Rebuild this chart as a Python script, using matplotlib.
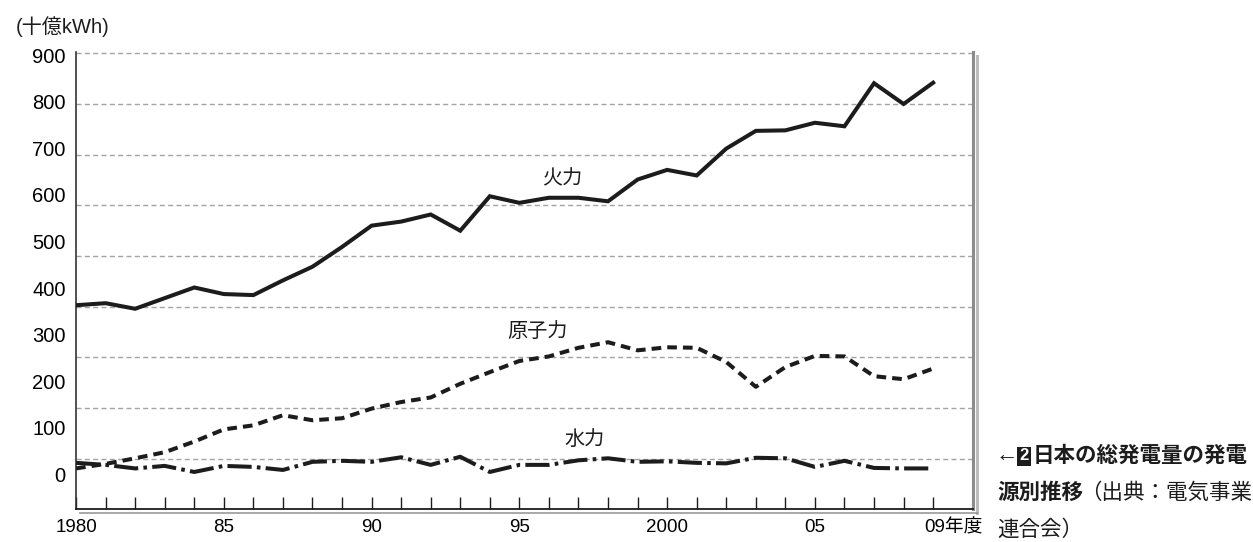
import matplotlib
matplotlib.use("Agg")
import matplotlib.pyplot as plt
import matplotlib.patheffects as pe
from matplotlib.transforms import ScaledTranslation

# ---- data ----
years = list(range(1980, 2010))
thermal = [403, 407, 396, 417, 438, 425, 423, 452, 479, 518,
           560, 568, 582, 550, 618, 605, 615, 615, 608, 651,
           670, 659, 712, 747, 748, 763, 756, 841, 800, 842]
nuclear = [81, 90, 101, 113, 134, 158, 166, 186, 176, 180,
           199, 212, 221, 248, 271, 293, 302, 319, 330, 314,
           320, 319, 291, 242, 281, 303, 302, 263, 257, 278]
hydro = [92, 88, 81, 86, 74, 86, 84, 78, 94, 96,
         94, 103, 88, 104, 74, 88, 88, 97, 101, 94,
         95, 92, 91, 102, 101, 84, 96, 82, 81, 81]
series_names = ["火力", "原子力", "水力"]
label_years = {1980: "1980", 1985: "85", 1990: "90", 1995: "95",
               2000: "2000", 2005: "05", 2009: "09年度"}
ytick_values = [0, 100, 200, 300, 400, 500, 600, 700, 800, 900]
grid_values = [100, 200, 300, 400, 500, 600, 700, 800, 900]
unit_label = "(十億kWh)"

FONT = ["Liberation Sans", "Noto Sans CJK JP", "DejaVu Sans"]
plt.rcParams["font.family"] = FONT
INK = "#1c1c1c"

fig = plt.figure(figsize=(12.53, 5.42), dpi=100)
ax = fig.add_axes([0.0607, 0.060, 0.7161, 0.8435])

ax.set_xlim(1980, 2010.36)
ax.set_ylim(0, 902)

# grid lines (dashed gray)
for g in grid_values:
    ax.axhline(g, color="#a3a3a3", lw=1.0, linestyle=(0, (3.6, 2.4)), zorder=1)

ax.plot(years, thermal, color=INK, lw=2.9, solid_joinstyle="miter", zorder=3)
ax.plot(years, nuclear, color=INK, lw=2.9, linestyle=(0, (2.4, 1.5)), zorder=3)
ax.plot(years, hydro, color=INK, lw=2.9, linestyle=(0, (6.0, 1.3, 0.9, 1.3)), zorder=3)

# series labels
ax.text(1996.44, 652, series_names[0], ha="center", va="center", fontsize=14.5, color=INK)
ax.text(1995.6, 351, series_names[1], ha="center", va="center", fontsize=14.5, color=INK)
ax.text(1997.2, 139, series_names[2], ha="center", va="center", fontsize=14.5, color=INK)

# x ticks
ax.set_xticks(years)
ax.set_xticklabels([label_years.get(y, "") for y in years], fontsize=13.5)
ax.tick_params(axis="x", direction="in", length=9, width=1.0, color=INK, pad=7)
last = ax.get_xticklabels()[-1]
last.set_ha("left")
last.set_transform(last.get_transform() + ScaledTranslation(-0.09, 0, fig.dpi_scale_trans))

# y axis: primary hidden, labels drawn from a secondary axis as in the reference
ax.set_yticks([])
sec = ax.secondary_yaxis("left", functions=(lambda d: 1.0885 * d - 75.4,
                                            lambda l: (l + 75.4) / 1.0885))
sec.set_yticks(ytick_values)
sec.set_yticklabels([str(v) for v in ytick_values], fontsize=14.5)
sec.tick_params(length=0, pad=7.5)
sec.spines["left"].set_visible(False)

# spines
ax.spines["top"].set_visible(False)
ax.spines["left"].set_color("#333333")
ax.spines["left"].set_linewidth(1.2)
ax.spines["bottom"].set_color(INK)
ax.spines["bottom"].set_linewidth(1.3)
ax.spines["bottom"].set_path_effects([
    pe.SimpleLineShadow(offset=(2.5, -2.5), shadow_color="#8a8a8a", alpha=0.8),
    pe.Normal()])
ax.spines["right"].set_color("#8c8c8c")
ax.spines["right"].set_linewidth(2.2)
ax.spines["right"].set_path_effects([
    pe.SimpleLineShadow(offset=(3, -2.5), shadow_color="#b5b5b5", alpha=0.9),
    pe.Normal()])

# unit label
fig.text(16 / 1253, 1 - 27 / 542, unit_label, ha="left", va="center", fontsize=14.5, color=INK)

# caption at right
cap_size = 15.5
fig.text(996 / 1253, 1 - 455 / 542, "←", ha="left", va="center", fontsize=16, color=INK)
fig.text(1024 / 1253, 1 - 456 / 542, "2", ha="center", va="center", fontsize=12,
         color="white", fontweight="bold",
         bbox=dict(boxstyle="square,pad=0.12", facecolor=INK, edgecolor="none"))
fig.text(1033 / 1253, 1 - 456 / 542, "日本の総発電量の発電", ha="left", va="center",
         fontsize=cap_size, fontweight="bold", color=INK)
fig.text(997 / 1253, 1 - 493 / 542, "源別推移", ha="left", va="center",
         fontsize=cap_size, fontweight="bold", color=INK)
fig.text(1080 / 1253, 1 - 493 / 542, "（出典：電気事業", ha="left", va="center",
         fontsize=cap_size, color=INK)
fig.text(997 / 1253, 1 - 530 / 542, "連合会）", ha="left", va="center",
         fontsize=cap_size, color=INK)

fig.savefig("out.png", dpi=100)
